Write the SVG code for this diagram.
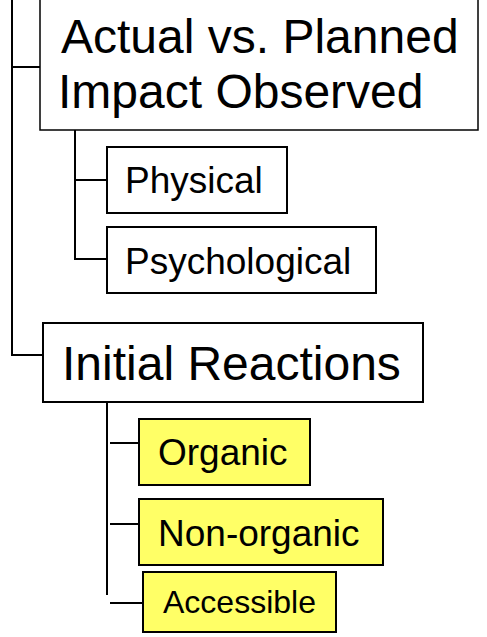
<svg xmlns="http://www.w3.org/2000/svg" width="487" height="637" viewBox="0 0 487 637">
  <style>
    .box { fill: #ffffff; stroke: #000000; stroke-width: 2; }
    .hl { fill: #ffff66; stroke: #000000; stroke-width: 2; }
    .wire { fill: none; stroke: #000000; stroke-width: 2; }
    text { font-family: "Liberation Sans", Arial, sans-serif; fill: #000000; }
    .big { font-size: 48px; }
    .mid { font-size: 37px; }
    .sm { font-size: 32px; }
  </style>

  <!-- connectors -->
  <g id="connectors">
    <path class="wire" d="M12,0 V355 H43"/>
    <path class="wire" d="M12,67 H43"/>
    <path class="wire" d="M75,130 V259 H107"/>
    <path class="wire" d="M75,180 H107"/>
    <path class="wire" d="M107,402 V595"/>
    <path class="wire" d="M110,443 H139"/>
    <path class="wire" d="M110,524 H139"/>
    <path class="wire" d="M110,603 H143"/>
  </g>

  <g id="impact">
    <rect class="box" x="40" y="-6" width="438" height="136" style="stroke-width:1.5"/>
    <text class="big" x="61" y="53">Actual vs. Planned</text>
    <text class="big" x="58" y="108">Impact Observed</text>
  </g>

  <g id="physical">
    <rect class="box" x="107" y="147" width="180" height="66"/>
    <text class="mid" x="125" y="193">Physical</text>
  </g>

  <g id="psychological">
    <rect class="box" x="107" y="227" width="269" height="66"/>
    <text class="mid" x="125" y="274">Psychological</text>
  </g>

  <g id="initial-reactions">
    <rect class="box" x="43" y="323" width="380" height="79"/>
    <text class="big" x="62" y="380">Initial Reactions</text>
  </g>

  <g id="organic">
    <rect class="hl" x="139" y="419" width="171" height="66"/>
    <text class="mid" x="158" y="465">Organic</text>
  </g>

  <g id="non-organic">
    <rect class="hl" x="139" y="499" width="244" height="66"/>
    <text class="mid" x="158" y="546">Non-organic</text>
  </g>

  <g id="accessible">
    <rect class="hl" x="143" y="572" width="193" height="60"/>
    <text class="sm" x="163" y="613">Accessible</text>
  </g>
</svg>
